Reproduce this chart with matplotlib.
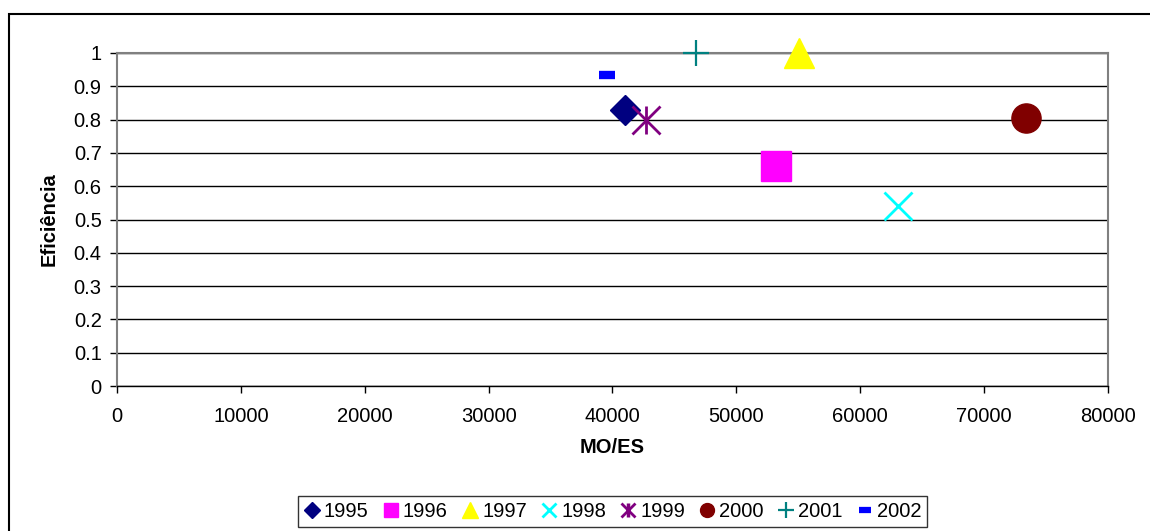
import matplotlib
matplotlib.use("Agg")
import matplotlib.pyplot as plt
from matplotlib.patches import Rectangle

plt.rcParams['font.family'] = ['Liberation Sans', 'DejaVu Sans']

# MO/ES and efficiency per year
years = ['1995', '1996', '1997', '1998', '1999', '2000', '2001', '2002']
mo_es = [41000, 53200, 55050, 63050, 42700, 73400, 46750, 39550]
eficiencia = [0.83, 0.66, 1.0, 0.54, 0.80, 0.805, 1.0, 0.935]

x_ticks = list(range(0, 80001, 10000))
y_ticks = [0, 0.1, 0.2, 0.3, 0.4, 0.5, 0.6, 0.7, 0.8, 0.9, 1]
y_labels = ['0', '0.1', '0.2', '0.3', '0.4', '0.5', '0.6', '0.7', '0.8', '0.9', '1']

# marker, colour, size, edge width, filled
styles = [
    ('D', '#000080', 15, 1.0, True),
    ('s', '#FF00FF', 21, 1.0, True),
    ('^', '#FFFF00', 22, 1.0, True),
    ('x', '#00FFFF', 20, 2.0, False),
    ('x', '#800080', 20, 2.0, False),
    ('o', '#800000', 21, 1.0, True),
    ('+', '#008080', 19, 1.6, False),
    ('_', '#0000FF', 11, 6.0, False),
]
legend_sizes = [8, 10, 11, 10, 10, 10, 11, 8]
fs = 14.5

fig = plt.figure(figsize=(11.5, 5.31), dpi=100)
ax = fig.add_axes([117 / 1150, 1 - 386 / 531, 991 / 1150, 333 / 531])

handles = []
for i, yr in enumerate(years):
    m, c, ms, mew, filled = styles[i]
    kw = dict(linestyle='none', marker=m, markersize=ms, markeredgewidth=mew,
              markeredgecolor=c, markerfacecolor=c if filled else 'none',
              zorder=5, clip_on=False)
    ax.plot([mo_es[i]], [eficiencia[i]], **kw)
    if i == 4:
        # asterisk: x with a vertical bar
        ax.plot([mo_es[i]], [eficiencia[i]], linestyle='none', marker='|',
                markersize=ms, markeredgewidth=mew, color=c, zorder=5)
    lkw = dict(kw)
    lkw['markersize'] = legend_sizes[i]
    lkw['markeredgewidth'] = min(mew, 2.5) if m != '_' else 4.5
    h = plt.Line2D([], [], **lkw)
    if i == 4:
        h = (h, plt.Line2D([], [], linestyle='none', marker='|', markersize=legend_sizes[i],
                           markeredgewidth=2.5, color=c))
    handles.append(h)

ax.set_xlim(0, 80000)
ax.set_ylim(0, 1)
ax.set_xticks(x_ticks)
ax.set_yticks(y_ticks)
ax.set_yticklabels(y_labels)
ax.tick_params(axis='both', direction='out', length=5, width=1, color='black',
               labelsize=fs)
ax.tick_params(axis='x', pad=10)
ax.tick_params(axis='y', pad=6)
ax.yaxis.grid(True, color='black', linewidth=1)
ax.set_axisbelow(True)

for side in ['left', 'right', 'top']:
    ax.spines[side].set_color('#808080')
    ax.spines[side].set_linewidth(1.5)
ax.spines['bottom'].set_color('black')
ax.spines['bottom'].set_linewidth(1)

ax.set_xlabel('MO/ES', fontsize=fs, fontweight='bold', labelpad=9)
ax.set_ylabel('Eficiência', fontsize=fs, fontweight='bold', labelpad=11)

leg = fig.legend(handles, years, loc='center', bbox_to_anchor=(612.5 / 1150, 1 - 511.5 / 531),
                 ncol=8, frameon=True, fancybox=False, edgecolor='black',
                 fontsize=fs, handlelength=0.8, handletextpad=0.2, columnspacing=0.7,
                 borderpad=0.3, borderaxespad=0)
leg.get_frame().set_linewidth(1)

# outer chart border (open at right and bottom)
fig.add_artist(Rectangle((8.5 / 1150, -0.1), 1.2, 1 - 13.5 / 531 + 0.1,
                         transform=fig.transFigure, fill=False,
                         edgecolor='black', linewidth=1.5))

fig.savefig('out.png', dpi=100)
